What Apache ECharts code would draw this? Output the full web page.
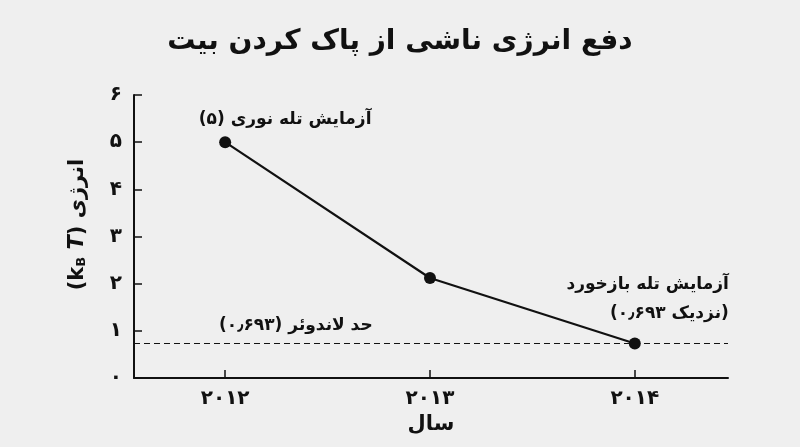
<!DOCTYPE html>
<html><head><meta charset="utf-8">
<script src="https://cdn.jsdelivr.net/npm/echarts@6/dist/echarts.min.js"></script>
<style>html,body{margin:0;padding:0;background:#efefef}#c{width:800px;height:447px}</style>
</head><body><div id="c"></div>
<script>
const years = [2012, 2013, 2014];
const energy = [5, 2.12, 0.73];
const landauer = 0.73;
const pointLabels = ['آزمایش تله نوری (۵)', '', 'آزمایش تله بازخورد\n(نزدیک ۰٫۶۹۳)'];
const titleText = 'دفع انرژی ناشی از پاک کردن بیت';
const landauerLabel = 'حد لاندوئر (۰٫۶۹۳)';
const xName = 'سال';
const yNameWord = 'انرژی';

const FONT = "'DejaVu Sans', sans-serif";
const INK = '#111';
const fa = s => String(s).replace(/\d/g, d => '۰۱۲۳۴۵۶۷۸۹'[d]);
const rtl = s => s.split('\n').map(l => '\u200F' + l + '\u200F').join('\n');

const labelStyles = [
  {show: true, position: 'top', offset: [60, -3], align: 'center'},
  {show: false},
  {show: true, position: 'top', offset: [94, -4], align: 'right', lineHeight: 29}
];

const chart = echarts.init(document.getElementById('c'), null, {renderer: 'canvas'});
chart.setOption({
  backgroundColor: '#efefef',
  animation: false,
  textStyle: {fontFamily: FONT, color: INK},
  title: {
    text: rtl(titleText), left: 'center', top: 23,
    textStyle: {fontFamily: FONT, fontSize: 28, fontWeight: 'bold', color: INK}
  },
  grid: {left: 134, right: 72, top: 95, bottom: 69},
  xAxis: {
    type: 'value', min: 2011.555, max: 2014.455,
    axisLine: {lineStyle: {color: INK, width: 2}},
    axisTick: {show: true, inside: true, length: 8, lineStyle: {color: INK, width: 1.5}, customValues: years},
    axisLabel: {customValues: years, formatter: v => fa(v), fontSize: 20, fontWeight: 'bold', color: INK, fontFamily: FONT, margin: 11},
    splitLine: {show: false},
    name: rtl(xName), nameLocation: 'middle', nameGap: 36,
    nameTextStyle: {fontSize: 21, fontWeight: 'bold', color: INK, fontFamily: FONT}
  },
  yAxis: {
    type: 'value', min: 0, max: 6, interval: 1,
    axisLine: {show: true, lineStyle: {color: INK, width: 2}},
    axisTick: {show: true, inside: true, length: 8, lineStyle: {color: INK, width: 1.5}},
    axisLabel: {formatter: v => fa(v), fontSize: 20, fontWeight: 'bold', color: INK, fontFamily: FONT, margin: 12},
    splitLine: {show: false},
    name: '{a|(k}{s|B}{a| }{i|T}{a|) ' + yNameWord + '}',
    nameLocation: 'middle', nameRotate: 90, nameGap: 46,
    nameTextStyle: {
      padding: [0, 0, 0, 24],
      rich: {
        a: {fontSize: 21, fontWeight: 'bold', color: INK, fontFamily: FONT},
        s: {fontSize: 13, fontWeight: 'bold', color: INK, fontFamily: FONT, verticalAlign: 'bottom', padding: [8, 0, 0, 0]},
        i: {fontSize: 21, fontWeight: 'bold', fontStyle: 'italic', color: INK, fontFamily: FONT}
      }
    }
  },
  series: [{
    type: 'line',
    data: years.map((y, i) => ({
      value: [y, energy[i]],
      label: Object.assign({}, labelStyles[i], {formatter: rtl(pointLabels[i] || ' ')})
    })),
    symbol: 'circle', symbolSize: 12,
    itemStyle: {color: INK},
    lineStyle: {color: INK, width: 2.2},
    label: {fontSize: 17, fontWeight: 'bold', color: INK, fontFamily: FONT},
    markLine: {
      silent: true, symbol: 'none',
      data: [{yAxis: landauer}],
      lineStyle: {color: INK, width: 1.2, type: [6, 4]},
      label: {
        show: true, position: 'insideStartTop', distance: [85, 9],
        formatter: rtl(landauerLabel),
        fontSize: 17, fontWeight: 'bold', color: INK, fontFamily: FONT
      },
      z: 1
    },
    z: 3
  }]
});
</script></body></html>
